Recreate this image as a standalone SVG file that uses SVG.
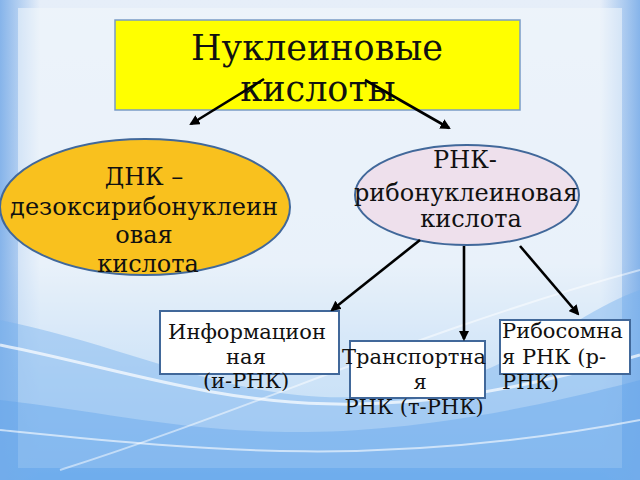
<svg xmlns="http://www.w3.org/2000/svg" width="640" height="480" viewBox="0 0 640 480">
<defs>
<linearGradient id="bg" x1="0" y1="0" x2="0" y2="1">
<stop offset="0" stop-color="#e6eef9"/>
<stop offset="0.55" stop-color="#dde9f8"/>
<stop offset="0.78" stop-color="#a3cbf3"/>
<stop offset="1" stop-color="#7db8ef"/>
</linearGradient>
<linearGradient id="sideR" x1="1" y1="0" x2="0" y2="0">
<stop offset="0" stop-color="#86b4ea"/>
<stop offset="1" stop-color="#86b4ea" stop-opacity="0"/>
</linearGradient>
<marker id="ah" viewBox="0 0 10 10" refX="8" refY="5" markerWidth="4" markerHeight="4" orient="auto" markerUnits="strokeWidth">
<path d="M0,0 L10,5 L0,10 Z" fill="#000"/>
</marker>
<style>
.t{font-family:"DejaVu Serif",serif;fill:#111;text-anchor:middle}
.m{font-size:24px}
.s{font-size:21px}
.box{fill:#fff;stroke:#41689a;stroke-width:2}
.c{stroke:#000;stroke-width:2.6;fill:none;marker-end:url(#ah)}
</style>
</defs>
<rect width="640" height="480" fill="url(#bg)"/>
<rect x="0" y="0" width="40" height="480" fill="url(#sideR)" transform="translate(40,0) scale(-1,1)"/>
<rect x="600" y="0" width="40" height="480" fill="url(#sideR)"/>
<rect x="18" y="8" width="604" height="460" fill="#f3f7fc" opacity="0.55"/>
<path d="M0,320 C150,350 260,420 420,390 C520,370 580,310 640,290 L640,480 L0,480 Z" fill="#78b2ee" opacity="0.45"/>
<path d="M0,400 C180,420 300,470 640,380 L640,480 L0,480 Z" fill="#5fa3ea" opacity="0.4"/>
<path d="M0,345 C200,385 320,450 640,355" fill="none" stroke="#ffffff" stroke-width="3" opacity="0.7"/>
<path d="M0,430 C200,450 380,470 640,420" fill="none" stroke="#ffffff" stroke-width="2" opacity="0.6"/>
<path d="M60,470 C250,410 420,330 640,270" fill="none" stroke="#ffffff" stroke-width="2" opacity="0.5"/>

<g id="title">
<rect x="115" y="20" width="405" height="90" fill="#ffff00" stroke="#7a9cc6" stroke-width="1.5"/>
<text class="t" x="317" y="60" font-size="35">Нуклеиновые</text>
<text class="t" x="318" y="101" font-size="35">кислоты</text>
</g>

<g id="dna">
<ellipse cx="145" cy="207" rx="145" ry="68" fill="#f9c11e" stroke="#41689a" stroke-width="2"/>
<text class="t m" x="144" y="185">ДНК –</text>
<text class="t m" x="144" y="215">дезоксирибонуклеин</text>
<text class="t m" x="144" y="243">овая</text>
<text class="t m" x="148" y="272">кислота</text>
</g>

<g id="rna">
<ellipse cx="467" cy="195" rx="112" ry="50" fill="#eee0ec" stroke="#41689a" stroke-width="2"/>
<text class="t m" x="465" y="168">РНК-</text>
<text class="t m" x="466" y="201">рибонуклеиновая</text>
<text class="t m" x="471" y="227">кислота</text>
</g>

<g id="mrna">
<rect class="box" x="160" y="311" width="179" height="63"/>
<text class="t s" x="247" y="339">Информацион</text>
<text class="t s" x="246" y="364">ная</text>
<text class="t s" x="246" y="388">(и-РНК)</text>
</g>

<g id="trna">
<rect class="box" x="350" y="341" width="135" height="57"/>
<text class="t s" x="414" y="364">Транспортна</text>
<text class="t s" x="420" y="389">я</text>
<text class="t s" x="414" y="414">РНК (т-РНК)</text>
</g>

<g id="rrna">
<rect class="box" x="500" y="320" width="130" height="54"/>
<text class="t s" x="502" y="338" style="text-anchor:start">Рибосомна</text>
<text class="t s" x="502" y="364" style="text-anchor:start">я РНК (р-</text>
<text class="t s" x="502" y="389" style="text-anchor:start">РНК)</text>
</g>

<g id="connectors">
<line class="c" x1="264" y1="79" x2="191" y2="124"/>
<line class="c" x1="365" y1="80" x2="449" y2="128"/>
<line class="c" x1="420" y1="240" x2="332" y2="310"/>
<line class="c" x1="464" y1="246" x2="464" y2="339"/>
<line class="c" x1="520" y1="246" x2="578" y2="314"/>
</g>
</svg>
